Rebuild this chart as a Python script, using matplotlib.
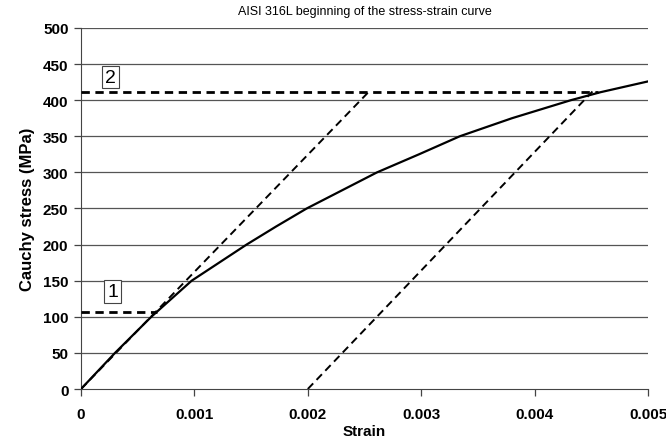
import matplotlib
matplotlib.use("Agg")
import matplotlib.pyplot as plt

plt.rcParams['font.family'] = ['Liberation Sans', 'DejaVu Sans']

# Data
curve_strain = [0, 0.0003, 0.00062, 0.000976, 0.00146, 0.00172, 0.00199, 0.0023,
                0.00261, 0.00298, 0.00334, 0.0038, 0.00432, 0.00458, 0.005]
curve_stress = [0, 50, 100, 150, 200, 225, 250, 275,
                300, 325, 350, 375, 400, 411, 426]

elastic_strain = [0, 0.00254]
elastic_stress = [0, 412]

offset_strain = [0.002, 0.00451]
offset_stress = [0, 412]

h1_strain = [0, 0.00067]
h1_stress = [106, 106]
h2_strain = [0, 0.00456]
h2_stress = [411, 411]

labels = ["1", "2"]
label_x = [0.00028, 0.00026]
label_y = [135, 432]

yticks = [0, 50, 100, 150, 200, 250, 300, 350, 400, 450, 500]
xticks = [0, 0.001, 0.002, 0.003, 0.004, 0.005]
xticklabels = ["0", "0.001", "0.002", "0.003", "0.004", "0.005"]

fig = plt.figure(figsize=(6.66, 4.39), dpi=100)
ax = fig.add_axes([0.1216, 0.1116, 0.973 - 0.1216, 0.934 - 0.1116])

for y in yticks[1:]:
    ax.axhline(y, color='#555555', lw=0.9, zorder=1)

ax.plot(curve_strain, curve_stress, color='black', lw=1.6, zorder=3)
ax.plot(elastic_strain, elastic_stress, color='black', lw=1.4, ls=(0, (4, 2.5)), zorder=3)
ax.plot(offset_strain, offset_stress, color='black', lw=1.4, ls=(0, (4, 2.5)), zorder=3)
ax.plot(h1_strain, h1_stress, color='black', lw=2.0, ls=(0, (3, 2)), zorder=3)
ax.plot(h2_strain, h2_stress, color='black', lw=2.0, ls=(0, (3, 2)), zorder=3)

for t, x, y in zip(labels, label_x, label_y):
    ax.text(x, y, t, fontsize=14, ha='center', va='center',
            bbox=dict(boxstyle='square,pad=0.15', fc='white', ec='#444444', lw=0.8), zorder=4)

ax.set_xlim(0, 0.005)
ax.set_ylim(0, 500)
ax.set_xticks(xticks)
ax.set_xticklabels(xticklabels)
ax.set_yticks(yticks)
for lab in ax.get_xticklabels() + ax.get_yticklabels():
    lab.set_fontweight('bold')
    lab.set_fontsize(11)
ax.tick_params(axis='both', direction='out', length=5, width=0.9, color='#444444', pad=4)
ax.tick_params(axis='x', pad=8)
ax.spines['top'].set_visible(False)
ax.spines['right'].set_visible(False)
ax.spines['left'].set_color('#444444')
ax.spines['bottom'].set_color('#444444')

ax.set_xlabel('Strain', fontsize=11, fontweight='bold', labelpad=2)
ax.set_ylabel('Cauchy stress (MPa)', fontsize=12, fontweight='bold', labelpad=6)
ax.set_title('AISI 316L beginning of the stress-strain curve', fontsize=9, pad=10)

fig.savefig('out.png', dpi=100)
